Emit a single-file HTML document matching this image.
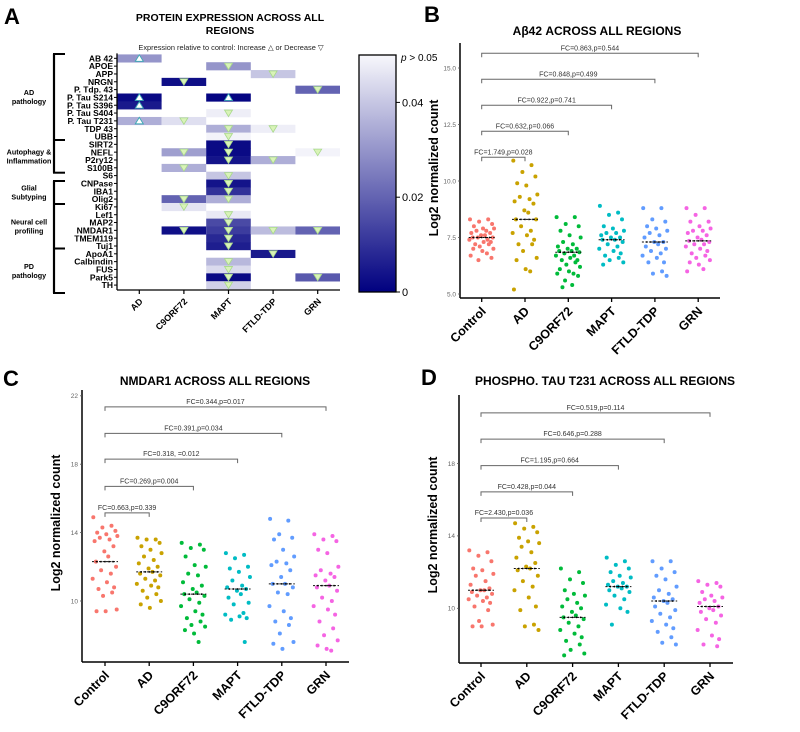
<!DOCTYPE html>
<html><head><meta charset="utf-8"><style>
body{margin:0;background:#fff;}
svg{display:block;font-family:"Liberation Sans",Arial,sans-serif;}
</style></head><body>
<svg id="fig" width="800" height="732" viewBox="0 0 800 732"></svg>
<script>
// ---------- Panel A data ----------
const heatRows = ["AB 42","APOE","APP","NRGN","P. Tdp. 43","P. Tau S214","P. Tau S396","P. Tau S404","P. Tau T231","TDP 43","UBB","SIRT2","NEFL","P2ry12","S100B","S6","CNPase","IBA1","Olig2","Ki67","Lef1","MAP2","NMDAR1","TMEM119","Tuj1","ApoA1","Calbindin","FUS","Park5","TH"];
const heatCols = ["AD","C9ORF72","MAPT","FTLD-TDP","GRN"];
// [row, col, p-value, direction]
const heatCells = [
 [0,0,0.030,"up"],[1,2,0.030,"down"],[2,3,0.040,"down"],[3,1,0.003,"down"],[4,4,0.020,"down"],
 [5,0,0.002,"up"],[5,2,0.001,"up"],[6,0,0.005,"up"],[7,2,0.048,"down"],[8,0,0.035,"up"],[8,1,0.045,"down"],
 [9,2,0.035,"down"],[9,3,0.048,"down"],[10,2,0.049,"down"],[11,2,0.002,"down"],
 [12,1,0.032,"down"],[12,2,0.002,"down"],[12,4,0.049,"down"],[13,2,0.004,"down"],[13,3,0.035,"down"],
 [14,1,0.035,"down"],[15,2,0.040,"down"],[16,2,0.004,"down"],[17,2,0.010,"down"],[18,1,0.020,"down"],[18,2,0.035,"down"],
 [19,1,0.046,"down"],[20,2,0.047,"down"],[21,2,0.015,"down"],[22,1,0.003,"down"],[22,2,0.012,"down"],[22,3,0.038,"down"],[22,4,0.020,"down"],
 [23,2,0.008,"down"],[24,2,0.006,"down"],[25,3,0.005,"down"],[26,2,0.037,"down"],[27,2,0.044,"down"],[28,2,0.002,"down"],[28,4,0.018,"down"],[29,2,0.042,"down"]
];
const pTicks = [0.04,0.02,0];

// ---------- Scatter panels data ----------
const groups = ["Control","AD","C9ORF72","MAPT","FTLD-TDP","GRN"];
const groupColors = ["#f8766d","#c9a200","#00bb3a","#00bcc4","#619cff","#f564e3"];

const bValues = [
 [8.3,8.3,8.2,8.1,8.0,7.9,7.9,7.8,7.8,7.7,7.7,7.6,7.6,7.5,7.5,7.5,7.4,7.4,7.3,7.3,7.2,7.2,7.1,7.0,7.0,6.9,6.8,6.7,6.6,6.5],
 [10.9,10.7,10.4,10.2,9.9,9.8,9.4,9.3,9.2,9.1,9.0,8.7,8.6,8.3,8.3,8.0,7.8,7.7,7.6,7.4,7.2,7.2,6.9,6.6,6.5,6.1,6.0,5.2],
 [8.4,8.4,8.1,8.0,7.8,7.6,7.5,7.3,7.2,7.1,7.0,7.0,6.9,6.9,6.85,6.8,6.7,6.7,6.6,6.5,6.5,6.4,6.3,6.2,6.1,6.0,5.9,5.9,5.8,5.6,5.4,5.3],
 [8.9,8.6,8.5,8.3,8.0,7.9,7.8,7.7,7.7,7.6,7.5,7.5,7.4,7.4,7.3,7.2,7.1,7.0,6.9,6.8,6.7,6.6,6.5,6.4,6.3],
 [8.8,8.8,8.3,8.2,8.0,7.9,7.8,7.7,7.6,7.5,7.3,7.3,7.2,7.1,7.0,6.9,6.8,6.7,6.6,6.4,6.4,6.0,5.9,5.8],
 [8.8,8.8,8.5,8.2,8.2,8.0,7.9,7.8,7.8,7.7,7.6,7.5,7.4,7.35,7.3,7.2,7.2,7.1,7.0,6.9,6.8,6.7,6.6,6.5,6.4,6.3,6.1,6.0]
];
const bMedians = [7.5,8.3,6.85,7.4,7.3,7.35];
const bTicks = [5.0,7.5,10.0,12.5,15.0];
const bTickLabels = ["5.0","7.5","10.0","12.5","15.0"];
const bBracketLevels = [11.05,12.2,13.35,14.5,15.65];
const bBracketLabels = ["FC=1.749,p=0.028","FC=0.632,p=0.066","FC=0.922,p=0.741","FC=0.848,p=0.499","FC=0.863,p=0.544"];

const cValues = [
 [14.9,14.4,14.3,14.1,14.0,13.9,13.8,13.7,13.6,13.5,13.2,12.9,12.6,12.3,12.0,11.8,11.6,11.3,11.1,10.8,10.7,10.5,10.3,9.5,9.4,9.4],
 [13.7,13.6,13.6,13.4,13.2,13.0,12.8,12.6,12.4,12.2,12.0,11.9,11.7,11.6,11.5,11.3,11.2,11.0,10.9,10.8,10.6,10.4,10.2,10.0,9.8,9.6],
 [13.4,13.3,13.1,13.0,12.6,12.1,12.0,11.6,11.5,11.1,10.9,10.7,10.5,10.4,10.3,10.1,9.9,9.7,9.4,9.2,9.0,8.8,8.6,8.5,8.3,8.1,7.6],
 [12.8,12.7,12.5,12.0,11.9,11.7,11.4,11.2,10.9,10.8,10.7,10.6,10.4,10.2,9.9,9.8,9.3,9.2,9.1,9.0,8.9,7.6],
 [14.8,14.7,13.9,13.7,13.6,13.0,12.6,12.3,12.2,12.1,11.8,11.4,11.0,11.0,10.8,10.5,10.4,9.7,9.4,9.0,8.8,8.6,8.1,7.6,7.5,7.2],
 [13.9,13.8,13.6,13.5,13.0,12.8,12.0,11.8,11.6,11.5,11.4,11.2,10.9,10.8,10.6,10.2,10.0,9.7,9.5,9.2,8.8,8.4,8.0,7.7,7.4,7.2,7.1]
];
const cMedians = [12.3,11.7,10.4,10.7,11.0,10.9];
const cTicks = [10,14,18,22];
const cTickLabels = ["10","14","18","22"];
const cBracketLevels = [15.15,16.7,18.3,19.8,21.35];
const cBracketLabels = ["FC=0.663,p=0.339","FC=0.269,p=0.004","FC=0.318,  =0.012","FC=0.391,p=0.034","FC=0.344,p=0.017"];

const dValues = [
 [13.2,13.1,12.9,12.6,12.2,12.1,11.9,11.8,11.5,11.3,11.1,11.0,11.0,10.9,10.8,10.7,10.6,10.5,10.4,10.3,10.1,9.9,9.3,9.1,9.0,9.0],
 [14.7,14.5,14.4,14.2,13.9,13.7,13.6,13.4,13.1,12.8,12.5,12.3,12.2,12.1,11.8,11.5,11.2,11.0,10.6,10.1,9.9,9.1,9.0,8.8],
 [12.2,12.0,11.6,11.4,11.0,10.8,10.7,10.5,10.3,10.1,10.0,9.8,9.6,9.5,9.4,9.2,9.0,8.8,8.6,8.4,8.2,8.0,7.7,7.5,7.4],
 [12.8,12.6,12.4,12.2,12.0,11.8,11.7,11.5,11.4,11.3,11.2,11.2,11.1,11.0,10.9,10.7,10.5,10.2,10.0,9.8,9.1],
 [12.6,12.6,12.2,12.0,11.8,11.6,11.2,11.0,10.8,10.6,10.5,10.4,10.3,10.1,9.9,9.7,9.5,9.3,9.1,8.9,8.7,8.4,8.1,8.0],
 [11.5,11.4,11.3,11.2,10.9,10.7,10.6,10.5,10.4,10.3,10.1,10.0,9.9,9.8,9.6,9.4,9.2,8.8,8.5,8.3,8.0,7.9]
];
const dMedians = [11.0,12.2,9.5,11.2,10.4,10.1];
const dTicks = [10,14,18];
const dTickLabels = ["10","14","18"];
const dBracketLevels = [14.99,16.43,17.88,19.35,20.8];
const dBracketLabels = ["FC=2.430,p=0.036","FC=0.428,p=0.044","FC=1.195,p=0.664","FC=0.646,p=0.288","FC=0.519,p=0.114"];

// ---------- helpers ----------
const NS="http://www.w3.org/2000/svg";
const svg=document.getElementById('fig');
function mk(tag,attrs,parent,text){
  const e=document.createElementNS(NS,tag);
  for(const k in attrs) e.setAttribute(k,attrs[k]);
  if(text!==undefined) e.textContent=text;
  (parent||svg).appendChild(e);
  return e;
}

// ---------- Panel letters ----------
[["A",4,24],["B",424,22],["C",3,386],["D",421,385]].forEach(function(d){
  const t=mk('text',{x:d[1],y:d[2],'font-size':22,'font-weight':'bold'},svg,d[0]);
  
  
});

// ---------- Panel A ----------
(function(){
  const g=mk('g',{});
  
  
  const left=117,right=340,top=54.4,pitch=7.82;
  const cw=(right-left)/heatCols.length;
  const rowY=i=>top+pitch*(i+0.5);
  const colX=j=>left+cw*(j+0.5);
  const pcol=p=>{const f=Math.max(0,Math.min(1,p/0.05));
    const r=Math.round(0+f*(248)),gg=Math.round(0+f*248),b=Math.round(128+f*(252-128));
    return 'rgb('+r+','+gg+','+b+')';};
  let t=mk('text',{x:230,y:21,'font-size':10.5,'font-weight':'bold','text-anchor':'middle'},g,'PROTEIN EXPRESSION ACROSS ALL');
  
  
  mk('text',{x:230,y:34,'font-size':10.5,'font-weight':'bold','text-anchor':'middle'},g,'REGIONS');
  t=mk('text',{x:231,y:50,'font-size':7.4,'text-anchor':'middle',fill:'#222'},g,'Expression relative to control: Increase \u25B3 or Decrease \u25BD');
  
  
  heatCells.forEach(function(c){
    const y=top+pitch*c[0], x=left+cw*c[1];
    const r=mk('rect',{x:x,y:y,width:cw,height:pitch+0.3,fill:pcol(c[2])},g);
    
    
    const cx=colX(c[1]),cy=rowY(c[0]);
    let tri;
    if(c[3]==='up'){
      tri=mk('polygon',{points:(cx-4)+','+(cy+3)+' '+(cx+4)+','+(cy+3)+' '+cx+','+(cy-3.5),fill:'#fff',stroke:'#3aa9b4','stroke-width':0.9},g);
    } else {
      tri=mk('polygon',{points:(cx-4)+','+(cy-3)+' '+(cx+4)+','+(cy-3)+' '+cx+','+(cy+3.5),fill:'#d9f3b8',stroke:'#a8d98a','stroke-width':0.8},g);
    }
    
    
  });
  mk('line',{x1:left,y1:top-1,x2:left,y2:top+pitch*30+1,stroke:'#000','stroke-width':1.3},g);
  mk('line',{x1:left,y1:top+pitch*30+1,x2:right,y2:top+pitch*30+1,stroke:'#000','stroke-width':1.3},g);
  heatRows.forEach(function(name,i){
    mk('line',{x1:left-3,y1:rowY(i),x2:left,y2:rowY(i),stroke:'#000','stroke-width':1},g);
    const tt=mk('text',{x:left-4,y:rowY(i)+3.1,'font-size':8.5,'font-weight':'bold','text-anchor':'end'},g,name);
    
    
  });
  const by=top+pitch*30+1;
  heatCols.forEach(function(name,j){
    const x=colX(j);
    mk('line',{x1:x,y1:by,x2:x,y2:by+4,stroke:'#000','stroke-width':1.2},g);
    const tt=mk('text',{x:x+4,y:by+12,'font-size':9,'font-weight':'bold','text-anchor':'end',transform:'rotate(-45 '+(x+4)+' '+(by+12)+')'},g,name);
    
    
  });
  const brk=[[54,140,'AD','pathology'],[140,172.7,'Autophagy &','Inflammation'],[181,204,'Glial','Subtyping'],[204,248.5,'Neural cell','profiling'],[248.5,293,'PD','pathology']];
  brk.forEach(function(b){
    const gp=mk('g',{},g);
    
    
    mk('line',{x1:54,y1:b[0],x2:54,y2:b[1],stroke:'#000','stroke-width':2.2},gp);
    mk('line',{x1:53,y1:b[0],x2:65,y2:b[0],stroke:'#000','stroke-width':2},gp);
    mk('line',{x1:53,y1:b[1],x2:65,y2:b[1],stroke:'#000','stroke-width':2},gp);
    const m=(b[0]+b[1])/2;
    mk('text',{x:29,y:m-2,'font-size':7.2,'font-weight':'bold','text-anchor':'middle'},gp,b[2]);
    mk('text',{x:29,y:m+7,'font-size':7.2,'font-weight':'bold','text-anchor':'middle'},gp,b[3]);
  });
  const defs=mk('defs',{},g);
  const lg=mk('linearGradient',{id:'cb',x1:0,y1:0,x2:0,y2:1},defs);
  mk('stop',{offset:'0','stop-color':'#f8f8fc'},lg);
  mk('stop',{offset:'1','stop-color':'#000080'},lg);
  const cbTop=55,cbBot=292;
  const r=mk('rect',{x:359,y:cbTop,width:37,height:cbBot-cbTop,fill:'url(#cb)',stroke:'#000','stroke-width':1.3},g);
  
  
  const cbY=p=>cbBot-(p/0.05)*(cbBot-cbTop);
  pTicks.forEach(function(p,i){
    const y=cbY(p);
    mk('line',{x1:396,y1:y,x2:400,y2:y,stroke:'#000','stroke-width':1},g);
    const tt=mk('text',{x:402,y:y+4,'font-size':11},g,String(p));
    
    
  });
  const pl=mk('text',{x:401,y:61,'font-size':10},g);
  
  
  mk('tspan',{'font-style':'italic'},pl,'p');
  mk('tspan',{},pl,' > 0.05');
})();

// ---------- scatter panel builder ----------
const jitterPattern=[-0.9,0.5,-0.2,0.8,-0.6,0.1,0.95,-0.4,0.35,-0.8,0.65,-0.05,0.25,-0.7,0.85,-0.3,0.45,-0.95,0.15,0.7,-0.5,0.55,-0.15,0.9,-0.65,0.05,0.4,-0.85,0.75,-0.25,0.3,-0.45];
function scatterPanel(o){
  const g=mk('g',{});
  
  
  const yS=v=>o.y0-(v-o.v0)*o.ppu;
  const xS=i=>o.x0+o.step*i;
  let t=mk('text',{x:o.titleX,y:o.titleY,'font-size':12,'font-weight':'bold','text-anchor':'middle'},g,o.title);
  
  
  let a=mk('line',{x1:o.axX,y1:o.axTop,x2:o.axX,y2:o.axY,stroke:'#000','stroke-width':1.5},g);
  
  
  a=mk('line',{x1:o.axX,y1:o.axY,x2:o.axRight,y2:o.axY,stroke:'#000','stroke-width':1.5},g);
  
  
  o.ticks.forEach(function(v,i){
    const y=yS(v);
    mk('line',{x1:o.axX-2,y1:y,x2:o.axX,y2:y,stroke:'#555','stroke-width':0.8},g);
    const tt=mk('text',{x:o.axX-4,y:y+2.3,'font-size':6.5,fill:'#666','text-anchor':'end'},g,o.tickLabels[i]);
    
    
  });
  t=mk('text',{x:o.yLabX,y:o.yLabY,'font-size':12.5,'font-weight':'bold','text-anchor':'middle',transform:'rotate(-90 '+o.yLabX+' '+o.yLabY+')'},g,'Log2 normalized count');
  
  
  groups.forEach(function(name,i){
    const x=xS(i);
    mk('line',{x1:x,y1:o.axY,x2:x,y2:o.axY+4,stroke:'#000','stroke-width':1.3},g);
    const lx=x+5,ly=o.axY+14;
    const tt=mk('text',{x:lx,y:ly,'font-size':12.5,'font-weight':'bold','text-anchor':'end',transform:'rotate(-45 '+lx+' '+ly+')'},g,name);
    
    
  });
  o.values.forEach(function(arr,gi){
    arr.forEach(function(v,k){
      const c=mk('circle',{cx:xS(gi)+jitterPattern[k%jitterPattern.length]*13,cy:yS(v),r:2,fill:groupColors[gi]},g);
      
      
    });
  });
  o.medians.forEach(function(m,gi){
    const x=xS(gi),y=yS(m);
    const l=mk('line',{x1:x-13,y1:y,x2:x+13,y2:y,stroke:'#111','stroke-width':1,'stroke-dasharray':'2,1.5'},g);
    
    
    [-8,-4,0,4,8].forEach(function(d){mk('circle',{cx:x+d,cy:y,r:0.9,fill:'#000'},g);});
  });
  o.bracketLevels.forEach(function(lv,i){
    const y=yS(lv),x1=xS(0),x2=xS(i+1);
    const b=mk('path',{d:'M'+x1+','+(y+4)+'V'+y+'H'+x2+'V'+(y+4),fill:'none',stroke:'#666','stroke-width':1},g);
    
    
    const tt=mk('text',{x:(x1+x2)/2,y:y-3,'font-size':7,fill:'#333','text-anchor':'middle'},g,o.bracketLabels[i]);
    
    
  });
}

scatterPanel({name:'abeta42-panel',title:'A\u03B242 ACROSS ALL REGIONS',titleX:597,titleY:35,
  axX:460,axTop:43,axY:298,axRight:720,x0:481.7,step:43.3,v0:5,y0:294,ppu:22.6,
  yLabX:438,yLabY:168,ticks:bTicks,tickLabels:bTickLabels,values:bValues,medians:bMedians,
  bracketLevels:bBracketLevels,bracketLabels:bBracketLabels});
scatterPanel({name:'nmdar1-panel',title:'NMDAR1 ACROSS ALL REGIONS',titleX:215,titleY:385,
  axX:82,axTop:390,axY:662,axRight:349,x0:105,step:44.2,v0:10,y0:601,ppu:17.1,
  yLabX:60,yLabY:523,ticks:cTicks,tickLabels:cTickLabels,values:cValues,medians:cMedians,
  bracketLevels:cBracketLevels,bracketLabels:cBracketLabels});
scatterPanel({name:'tau-t231-panel',title:'PHOSPHO. TAU T231 ACROSS ALL REGIONS',titleX:605,titleY:385,
  axX:459,axTop:395,axY:663,axRight:733,x0:481,step:45.8,v0:10,y0:608.3,ppu:18.1,
  yLabX:437,yLabY:525,ticks:dTicks,tickLabels:dTickLabels,values:dValues,medians:dMedians,
  bracketLevels:dBracketLevels,bracketLabels:dBracketLabels});
</script>
</body></html>
